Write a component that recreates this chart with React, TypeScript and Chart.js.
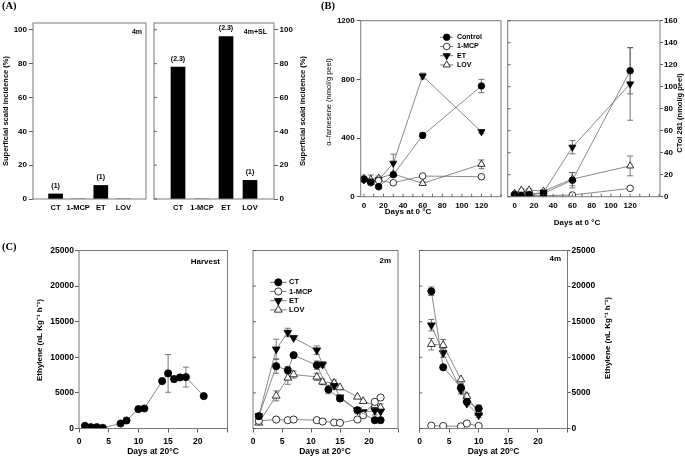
import React, { useEffect, useRef } from 'react';
import { Chart, registerables } from 'chart.js';
import { drawPoint } from 'chart.js/helpers';

Chart.register(...registerables);

// ---------------- DATA ----------------
// (A) superficial scald incidence
const scaldCategories = ['CT', '1-MCP', 'ET', 'LOV'];
const scald4m = [3, 0, 8, 0];
const scald4mNotes = ['(1)', '', '(1)', ''];
const scald4mSL = [78, 0, 96, 11];
const scald4mSLNotes = ['(2.3)', '', '(2.3)', '(1)'];
const scaldTicks = [0, 20, 40, 60, 80, 100];

// (B) storage at 0 °C
const storageDays = [0, 7, 15, 30, 60, 120];
const bSeriesNames = ['Control', '1-MCP', 'ET', 'LOV'];
const farnControl = [118, 100, 68, 150, 418, 755];
const farnControlErr = [15, 10, 10, 10, 10, 45];
const farnMCP = [120, 95, 110, 95, 141, 136];
const farnMCPErr = [10, 10, 10, 10, 10, 10];
const farnET = [115, 100, 115, 228, 823, 443];
const farnETErr = [10, 10, 10, 62, 20, 12];
const farnLOV = [125, 118, 125, 155, 91, 221];
const farnLOVErr = [15, 30, 15, 10, 10, 30];
const farnTicks = [0, 400, 800, 1200];

const ctolControl = [2, 1, 2, 3, 15, 114.5];
const ctolControlErr = [0, 0, 0, 0, 7, 21];
const ctolMCP = [2, 1, 1, 1, 1.5, 7.6];
const ctolMCPErr = [0, 0, 0, 0, 0, 0];
const ctolET = [1, 0.5, 2, 4, 45, 102.5];
const ctolETErr = [0, 0, 0, 0, 6, 33];
const ctolLOV = [3, 6, 6, 5, 16, 28];
const ctolLOVErr = [0, 1, 1, 1, 6, 9];
const ctolTicks = [0, 20, 40, 60, 80, 100, 120, 140, 160];
const storageDayTicksL = [0, 10, 20, 30, 40, 50, 60, 70, 80, 90, 100, 110, 120, 130, 140];
const storageDayTicksR = [0, 10, 20, 30, 40, 50, 60, 70, 80, 90, 100, 110, 120, 130, 140, 150];
const storageDayLabels = [0, 20, 40, 60, 80, 100, 120];

// (C) ethylene at 20 °C
const cSeriesNames = ['CT', '1-MCP', 'ET', 'LOV'];
const harvestDays = [1, 2, 3, 4, 7, 8, 10, 11, 14, 15, 16, 17, 18, 21];
const harvestCT = [375, 190, 190, 100, 700, 1125, 2720, 2810, 6660, 7740, 6940, 7175, 7220, 4550];
const harvestCTErr = [0, 0, 0, 0, 0, 0, 0, 0, 0, 2650, 400, 0, 1400, 0];

const m2DaysCT = [1, 4, 6, 7, 11, 13, 15, 18, 21, 22];
const m2CT = [1730, 8750, 8190, 10300, 8890, 5480, 4210, 2570, 1170, 1170];
const m2CTErr = [0, 1000, 500, 0, 600, 600, 400, 0, 0, 0];
const m2DaysOther = [1, 4, 6, 7, 11, 12, 14, 15, 18, 19, 21, 22];
const m2MCP = [1070, 1260, 1170, 1260, 1170, 980, 840, 790, 1260, 1870, 3740, 4350];
const m2MCPErr = [0, 0, 0, 0, 0, 0, 0, 0, 0, 0, 0, 0];
const m2ET = [1770, 11140, 13480, 12730, 11000, 8990, 6000, 4400, 2570, 2330, 2500, 2400];
const m2ETErr = [0, 1400, 600, 0, 600, 400, 500, 0, 0, 0, 600, 0];
const m2LOV = [790, 4580, 7110, 7580, 7250, 6550, 6410, 5760, 4440, 3830, 3270, 2950];
const m2LOVErr = [0, 700, 900, 500, 500, 400, 400, 0, 0, 0, 600, 500];

const m4Days = [2, 4, 7, 8, 10];
const m4CT = [19280, 8600, 5760, 3740, 2810];
const m4CTErr = [600, 0, 600, 0, 500];
const m4MCP = [400, 350, 300, 700, 350];
const m4MCPErr = [0, 0, 0, 0, 0];
const m4ET = [14510, 10600, 5380, 3510, 1870];
const m4ETErr = [800, 600, 500, 0, 300];
const m4LOV = [11840, 11700, 6880, 4540, 2190];
const m4LOVErr = [800, 800, 0, 400, 0];

const ethTicks = [0, 5000, 10000, 15000, 20000, 25000];
const shelfDayTicks = [0, 5, 10, 15, 20, 25];
const shelfDayLabels = [0, 5, 10, 15, 20];

// ---------------- STYLE / LAYOUT ----------------
const W = 685;
const H = 459;
const AXH = 30;
const SANS = '"Liberation Sans", Arial, sans-serif';
const SERIF = '"Liberation Serif", "Times New Roman", serif';

type Box = { l: number; t: number; r: number; b: number };
type TextItem = { text: string; x: number; y: number; rot?: number; font: string; align?: string };

const MARKERS: Record<string, { shape: string; rot: number; fill: string }> = {
  filledCircle: { shape: 'circle', rot: 0, fill: '#000' },
  openCircle: { shape: 'circle', rot: 0, fill: '#fff' },
  filledDown: { shape: 'triangle', rot: 180, fill: '#000' },
  openUp: { shape: 'triangle', rot: 0, fill: '#fff' },
};
const markerOrder = ['filledCircle', 'openCircle', 'filledDown', 'openUp'];

const tf = (size: number, weight = 'bold') => ({ family: SANS, size, weight });
const fixW = (w: number) => (s: any) => { s.width = w; };
const fixH = (h: number) => (s: any) => { s.height = h; };

function pad(box: Box, leftW: number, rightW: number) {
  return { left: box.l - leftW, top: box.t, right: W - box.r - rightW, bottom: H - box.b - AXH };
}

// ---------------- PLUGINS ----------------
const framePlugin = {
  id: 'frame',
  afterDatasetsDraw(chart: any, _a: any, opts: any) {
    const { ctx, chartArea: a } = chart;
    ctx.save();
    ctx.strokeStyle = '#7a7a7a';
    ctx.lineWidth = 1;
    ctx.strokeRect(a.left, a.top, a.right - a.left, a.bottom - a.top);
    ctx.strokeStyle = '#444';
    ctx.lineWidth = 0.8;
    (opts.inner || []).forEach((spec: any) => {
      const sc = chart.scales[spec.scale];
      spec.values.forEach((v: number) => {
        const p = sc.getPixelForValue(v);
        ctx.beginPath();
        if (spec.side === 'left') { ctx.moveTo(a.left, p); ctx.lineTo(a.left + 3, p); }
        else { ctx.moveTo(p, a.bottom); ctx.lineTo(p, a.bottom - 3); }
        ctx.stroke();
      });
    });
    ctx.restore();
  },
};

const textPlugin = {
  id: 'texts',
  afterDraw(chart: any, _a: any, opts: any) {
    const ctx = chart.ctx;
    (opts.items || []).forEach((it: any) => {
      ctx.save();
      ctx.translate(it.x, it.y);
      if (it.rot) ctx.rotate((it.rot * Math.PI) / 180);
      ctx.font = it.font;
      ctx.fillStyle = '#000';
      ctx.textAlign = it.align || 'center';
      ctx.textBaseline = 'middle';
      ctx.fillText(it.text, 0, 0);
      ctx.restore();
    });
  },
};

const barNotesPlugin = {
  id: 'barNotes',
  afterDatasetsDraw(chart: any, _a: any, opts: any) {
    const notes = opts.notes || [];
    const ctx = chart.ctx;
    const meta = chart.getDatasetMeta(0);
    ctx.save();
    ctx.font = `bold 7px ${SANS}`;
    ctx.fillStyle = '#000';
    ctx.textAlign = 'center';
    ctx.textBaseline = 'middle';
    meta.data.forEach((bar: any, i: number) => {
      if (notes[i]) ctx.fillText(notes[i], bar.x, bar.y - 8);
    });
    ctx.restore();
  },
};

const errorBarPlugin = {
  id: 'errbars',
  beforeDatasetsDraw(chart: any) {
    const { ctx } = chart;
    const ys = chart.scales.y;
    ctx.save();
    ctx.strokeStyle = '#555';
    ctx.lineWidth = 0.8;
    chart.data.datasets.forEach((ds: any, di: number) => {
      const meta = chart.getDatasetMeta(di);
      ds.data.forEach((p: any, i: number) => {
        if (!p || !p.e) return;
        const el = meta.data[i];
        const y1 = ys.getPixelForValue(p.y + p.e);
        const y2 = ys.getPixelForValue(Math.max(p.y - p.e, ys.min));
        ctx.beginPath();
        ctx.moveTo(el.x, y1); ctx.lineTo(el.x, y2);
        ctx.moveTo(el.x - 3, y1); ctx.lineTo(el.x + 3, y1);
        ctx.moveTo(el.x - 3, y2); ctx.lineTo(el.x + 3, y2);
        ctx.stroke();
      });
    });
    ctx.restore();
  },
};

const legendPlugin = {
  id: 'miniLegend',
  afterDraw(chart: any, _a: any, opts: any) {
    if (!opts || opts.x == null) return;
    const ctx = chart.ctx;
    chart.data.datasets.forEach((ds: any, i: number) => {
      const y = opts.y + i * opts.dy;
      ctx.save();
      ctx.strokeStyle = '#555';
      ctx.lineWidth = 0.8;
      ctx.beginPath();
      ctx.moveTo(opts.x - opts.half, y);
      ctx.lineTo(opts.x + opts.half, y);
      ctx.stroke();
      ctx.fillStyle = ds.pointBackgroundColor;
      ctx.strokeStyle = '#000';
      ctx.lineWidth = 0.8;
      drawPoint(ctx, { pointStyle: ds.pointStyle, rotation: ds.pointRotation, radius: ds.pointRadius, borderWidth: 0.8 } as any, opts.x, y);
      ctx.font = opts.font;
      ctx.fillStyle = '#000';
      ctx.textAlign = 'left';
      ctx.textBaseline = 'middle';
      ctx.fillText(ds.label, opts.tx, y);
      ctx.restore();
    });
  },
};

const PLUGINS = [errorBarPlugin, framePlugin, textPlugin, barNotesPlugin, legendPlugin];

// ---------------- AXES ----------------
function yAxis(min: number, max: number, ticks: number[], side: 'left' | 'right' | 'none', size: number, tl: number, padding: number, width: number) {
  const base: any = {
    min, max,
    afterBuildTicks: (s: any) => { s.ticks = ticks.map((v) => ({ value: v })); },
    border: { display: false },
    afterFit: fixW(side === 'none' ? 0 : width),
  };
  if (side === 'none') {
    return { ...base, position: 'left', ticks: { display: false }, grid: { display: false, drawTicks: false } };
  }
  return {
    ...base,
    position: side,
    ticks: { font: tf(size), color: '#000', padding, autoSkip: false, callback: (v: any) => String(v) },
    grid: { display: true, drawOnChartArea: false, drawTicks: true, tickLength: tl, color: '#333', lineWidth: 0.8 },
  };
}

function xAxis(min: number, max: number, ticks: number[], labels: number[], outer: boolean, size: number) {
  return {
    type: 'linear', min, max,
    afterBuildTicks: (s: any) => { s.ticks = ticks.map((v) => ({ value: v })); },
    ticks: { font: tf(size), color: '#000', padding: 4, autoSkip: false, maxRotation: 0, callback: (v: any) => (labels.includes(v) ? String(v) : '') },
    grid: outer ? { display: true, drawOnChartArea: false, drawTicks: true, tickLength: 4, color: '#333', lineWidth: 0.8 } : { display: false, drawTicks: false },
    border: { display: false },
    afterFit: fixH(AXH),
  };
}

// ---------------- CONFIG BUILDERS ----------------
function barConfig(values: number[], notes: string[], box: Box, side: 'left' | 'right', texts: TextItem[]) {
  const leftW = side === 'left' ? 30 : 0;
  const rightW = side === 'right' ? 30 : 0;
  return {
    type: 'bar',
    data: {
      labels: ['', ...scaldCategories, ''],
      datasets: [{ data: [null, ...values, null], backgroundColor: '#000', borderWidth: 0, barThickness: 14 }],
    },
    options: {
      animation: false, responsive: false, events: [],
      layout: { padding: pad(box, leftW, rightW) },
      plugins: {
        legend: { display: false }, tooltip: { enabled: false },
        texts: { items: texts },
        barNotes: { notes: ['', ...notes, ''] },
        frame: { inner: side === 'right' ? [{ scale: 'y', side: 'left', values: scaldTicks }] : [] },
      },
      scales: {
        x: { type: 'category', offset: false, grid: { display: false, drawTicks: false }, border: { display: false },
          ticks: { font: tf(7.5), color: '#000', padding: 4, autoSkip: false, maxRotation: 0 }, afterFit: fixH(AXH) },
        y: yAxis(0, 104, scaldTicks, side, 8, 4, side === 'left' ? 2 : 1.5, 30),
      },
    },
    plugins: PLUGINS,
  };
}

type Series = { label: string; days: number[]; values: number[]; errors: number[]; marker: string };

function lineDatasets(series: Series[], r: number) {
  return series.map((s) => {
    const m = MARKERS[s.marker];
    return {
      type: 'line', label: s.label,
      data: s.days.map((d, i) => ({ x: d, y: s.values[i], e: s.errors[i] || 0 })),
      borderColor: '#6b6b6b', borderWidth: 0.8, tension: 0, fill: false,
      pointStyle: m.shape, pointRotation: m.rot, pointRadius: m.shape === 'triangle' ? r * 1.25 : r,
      pointBackgroundColor: m.fill, pointBorderColor: '#000', pointBorderWidth: 0.8,
    };
  });
}

function lineConfig(o: {
  box: Box; series: Series[]; r: number;
  xMin: number; xMax: number; xTicks: number[]; xLabels: number[]; xOuter: boolean; xInner: boolean;
  yMax: number; yTicks: number[]; ySide: 'left' | 'right' | 'none'; yInner: boolean; yInnerTicks: number[];
  size: number; yPad: number; yTl: number; rightW?: number; texts: TextItem[]; legend?: any;
}) {
  const leftW = o.ySide === 'left' ? 30 : 0;
  const rightW = o.ySide === 'right' ? (o.rightW ?? 30) : 0;
  const inner: any[] = [];
  if (o.yInner) inner.push({ scale: 'y', side: 'left', values: o.yInnerTicks });
  if (o.xInner) inner.push({ scale: 'x', side: 'bottom', values: o.xTicks });
  return {
    type: 'line',
    data: { datasets: lineDatasets(o.series, o.r) },
    options: {
      animation: false, responsive: false, events: [],
      layout: { padding: pad(o.box, leftW, rightW) },
      plugins: {
        legend: { display: false }, tooltip: { enabled: false },
        texts: { items: o.texts },
        frame: { inner },
        miniLegend: o.legend || {},
      },
      scales: {
        x: xAxis(o.xMin, o.xMax, o.xTicks, o.xLabels, o.xOuter, o.size),
        y: yAxis(0, o.yMax, o.yTicks, o.ySide, o.size, o.yTl, o.yPad, rightW || leftW),
      },
    },
    plugins: PLUGINS,
  };
}

function mkSeries(names: string[], days: number[][], values: number[][], errors: number[][]): Series[] {
  return names.map((n, i) => ({ label: n, days: days[i], values: values[i], errors: errors[i], marker: markerOrder[i] }));
}

const F = (size: number, weight = 'bold', fam = SANS) => `${weight} ${size}px ${fam}`;

function buildConfigs(): any[] {
  const aLeft = barConfig(scald4m, scald4mNotes, { l: 33, t: 23, r: 146, b: 199 }, 'left', [
    { text: '(A)', x: 2, y: 6.5, font: F(10.5, 'bold', SERIF), align: 'left' },
    { text: '(B)', x: 321, y: 6.5, font: F(10.5, 'bold', SERIF), align: 'left' },
    { text: '(C)', x: 2, y: 247, font: F(10.5, 'bold', SERIF), align: 'left' },
    { text: 'Superficial scald incidence (%)', x: 6, y: 111, rot: -90, font: F(7.5) },
    { text: '4m', x: 142, y: 32, align: 'right', font: F(7) },
  ]);
  const aRight = barConfig(scald4mSL, scald4mSLNotes, { l: 154, t: 23, r: 274, b: 199 }, 'right', [
    { text: 'Superficial scald incidence (%)', x: 303, y: 111, rot: -90, font: F(7.5) },
    { text: '4m+SL', x: 267, y: 32, align: 'right', font: F(7) },
  ]);

  const sd = storageDays;
  const bLeft = lineConfig({
    box: { l: 360.7, t: 20.7, r: 501, b: 196.7 },
    series: mkSeries(bSeriesNames, [sd, sd, sd, sd], [farnControl, farnMCP, farnET, farnLOV], [farnControlErr, farnMCPErr, farnETErr, farnLOVErr]),
    r: 3.3, xMin: -3.3, xMax: 140, xTicks: storageDayTicksL, xLabels: storageDayLabels, xOuter: false, xInner: true,
    yMax: 1200, yTicks: farnTicks, ySide: 'left', yInner: false, yInnerTicks: [], size: 8, yPad: 2, yTl: 4,
    texts: [
      { text: 'α–farnesene (nmol/g peel)', x: 329, y: 102, rot: -90, font: F(7.5, 'normal') },
      { text: 'Days at 0 °C', x: 408, y: 212, font: F(8) },
    ],
    legend: { x: 446.7, y: 37.3, dy: 9.2, half: 6.5, tx: 457, font: F(7) },
  });
  const bRight = lineConfig({
    box: { l: 507.7, t: 20.7, r: 660, b: 196.7 },
    series: mkSeries(bSeriesNames, [sd, sd, sd, sd], [ctolControl, ctolMCP, ctolET, ctolLOV], [ctolControlErr, ctolMCPErr, ctolETErr, ctolLOVErr]),
    r: 3.3, xMin: -7.2, xMax: 151, xTicks: storageDayTicksR, xLabels: storageDayLabels, xOuter: false, xInner: true,
    yMax: 160, yTicks: ctolTicks, ySide: 'right', yInner: true, yInnerTicks: ctolTicks, size: 8, yPad: 1, yTl: 3, rightW: 25,
    texts: [
      { text: 'CTol 281 (nmol/g peel)', x: 680, y: 113, rot: -90, font: F(7.5) },
      { text: 'Days at 0 °C', x: 577, y: 222.5, font: F(8) },
    ],
  });

  const cBox = { t: 250.5, b: 428.5 };
  const c1 = lineConfig({
    box: { l: 79, r: 227.5, ...cBox },
    series: [{ label: 'CT', days: harvestDays, values: harvestCT, errors: harvestCTErr, marker: 'filledCircle' }],
    r: 3.6, xMin: 0, xMax: 25, xTicks: shelfDayTicks, xLabels: shelfDayLabels, xOuter: true, xInner: false,
    yMax: 25000, yTicks: ethTicks, ySide: 'left', yInner: false, yInnerTicks: [], size: 8.5, yPad: 1, yTl: 4,
    texts: [
      { text: 'Ethylene (nL Kg⁻¹ h⁻¹)', x: 40, y: 340, rot: -90, font: F(8) },
      { text: 'Harvest', x: 220, y: 262, align: 'right', font: F(8) },
      { text: 'Days at 20°C', x: 153, y: 452, font: F(8.5) },
    ],
  });
  const o = m2DaysOther;
  const c2 = lineConfig({
    box: { l: 253, r: 398, ...cBox },
    series: mkSeries(cSeriesNames, [m2DaysCT, o, o, o], [m2CT, m2MCP, m2ET, m2LOV], [m2CTErr, m2MCPErr, m2ETErr, m2LOVErr]),
    r: 3.6, xMin: 0, xMax: 25, xTicks: shelfDayTicks, xLabels: shelfDayLabels, xOuter: true, xInner: false,
    yMax: 25000, yTicks: ethTicks, ySide: 'none', yInner: true, yInnerTicks: ethTicks, size: 8.5, yPad: 1, yTl: 4,
    texts: [
      { text: '2m', x: 391, y: 261, align: 'right', font: F(8) },
      { text: 'Days at 20°C', x: 325, y: 452, font: F(8.5) },
    ],
    legend: { x: 278.3, y: 282.3, dy: 9.2, half: 8.3, tx: 289, font: F(7.5) },
  });
  const d = m4Days;
  const c3 = lineConfig({
    box: { l: 419.5, r: 567.5, ...cBox },
    series: mkSeries(cSeriesNames, [d, d, d, d], [m4CT, m4MCP, m4ET, m4LOV], [m4CTErr, m4MCPErr, m4ETErr, m4LOVErr]),
    r: 3.6, xMin: 0, xMax: 25, xTicks: shelfDayTicks, xLabels: shelfDayLabels, xOuter: true, xInner: false,
    yMax: 25000, yTicks: ethTicks, ySide: 'right', yInner: true, yInnerTicks: ethTicks, size: 8.5, yPad: 1, yTl: 3,
    texts: [
      { text: '4m', x: 561, y: 259, align: 'right', font: F(8) },
      { text: 'Days at 20°C', x: 493.5, y: 452, font: F(8.5) },
      { text: 'Ethylene (nL Kg⁻¹ h⁻¹)', x: 608, y: 338, rot: -90, font: F(8) },
    ],
  });
  return [aLeft, aRight, bLeft, bRight, c1, c2, c3];
}

export default function App() {
  const refs = useRef<(HTMLCanvasElement | null)[]>([]);
  useEffect(() => {
    const charts = buildConfigs().map((cfg, i) => new Chart(refs.current[i] as HTMLCanvasElement, cfg));
    return () => charts.forEach((c) => c.destroy());
  }, []);
  return (
    <div style={{ position: 'absolute', left: 0, top: 0, width: W, height: H, background: '#fff', overflow: 'hidden' }}>
      {Array.from({ length: 7 }).map((_, i) => (
        <canvas
          key={i}
          ref={(el) => { refs.current[i] = el; }}
          width={W}
          height={H}
          style={{ position: 'absolute', left: 0, top: 0, width: W, height: H }}
        />
      ))}
    </div>
  );
}
